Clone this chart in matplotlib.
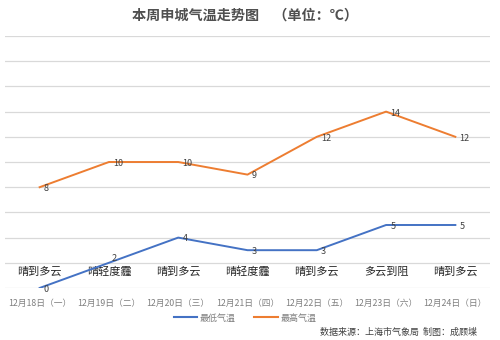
import matplotlib
matplotlib.use("Agg")
import matplotlib.pyplot as plt
from matplotlib.lines import Line2D

plt.rcParams['font.family'] = ['Noto Sans CJK SC', 'DejaVu Sans']

dates = ["12月18日（一）", "12月19日（二）", "12月20日（三）", "12月21日（四）",
         "12月22日（五）", "12月23日（六）", "12月24日（日）"]
weather = ["晴到多云", "晴轻度霾", "晴到多云", "晴轻度霾", "晴到多云", "多云到阻", "晴到多云"]
low_temp = [0, 2, 4, 3, 3, 5, 5]
high_temp = [8, 10, 10, 9, 12, 14, 12]

BLUE = "#4472C4"
ORANGE = "#ED7D31"

fig = plt.figure(figsize=(5, 3.4), dpi=100)
ax = fig.add_axes([0.01, 0.153, 0.97, 0.741])
x = list(range(len(dates)))

ax.set_xlim(-0.5, len(dates) - 0.5)
ax.set_ylim(0, 20)
for v in range(0, 21, 2):
    ax.axhline(v, color="#d9d9d9", lw=0.9, zorder=0)

ax.plot(x, low_temp, color=BLUE, lw=1.4, zorder=3)
ax.plot(x, high_temp, color=ORANGE, lw=1.4, zorder=3)


def value_label(xi, v):
    # values sitting on the weather row are lifted above the text
    if 0 < v <= 2:
        ax.annotate(str(v), (xi, v), xytext=(2, 0), textcoords="offset points",
                    ha="left", va="bottom", fontsize=6.5, color="#404040", zorder=4)
    else:
        ax.annotate(str(v), (xi, v), xytext=(3, -1), textcoords="offset points",
                    ha="left", va="center", fontsize=6.5, color="#404040", zorder=4)


for xi, v in zip(x, low_temp):
    value_label(xi, v)
for xi, v in zip(x, high_temp):
    value_label(xi, v)

# weather row inside the lowest band
for xi, w in zip(x, weather):
    ax.text(xi, 1.3, w, ha="center", va="center", fontsize=8, color="#262626", zorder=2)

ax.set_xticks([])
ax.set_yticks([])
for s in ax.spines.values():
    s.set_visible(False)

# date row under the axis
for xi, d in zip(x, dates):
    ax.annotate(d, (xi, 0), xytext=(0, -11), textcoords="offset points",
                ha="center", va="center", fontsize=6.3, color="#7f7f7f")

fig.text(0.49, 0.953, "本周申城气温走势图　（单位：℃）", ha="center", va="center",
         fontsize=10.2, fontweight="bold", color="#505050")

handles = [Line2D([], [], color=BLUE, lw=1.5), Line2D([], [], color=ORANGE, lw=1.5)]
fig.legend(handles, ["最低气温", "最高气温"], loc="center", bbox_to_anchor=(0.49, 0.065),
           ncol=2, frameon=False, fontsize=6.5, handlelength=2.6, columnspacing=2.0,
           handletextpad=0.3, labelcolor="#7f7f7f")

fig.text(0.955, 0.022, "数据来源：上海市气象局  制图：成顾堞", ha="right", va="center",
         fontsize=6.5, color="#404040")

fig.savefig("out.png", dpi=100)
